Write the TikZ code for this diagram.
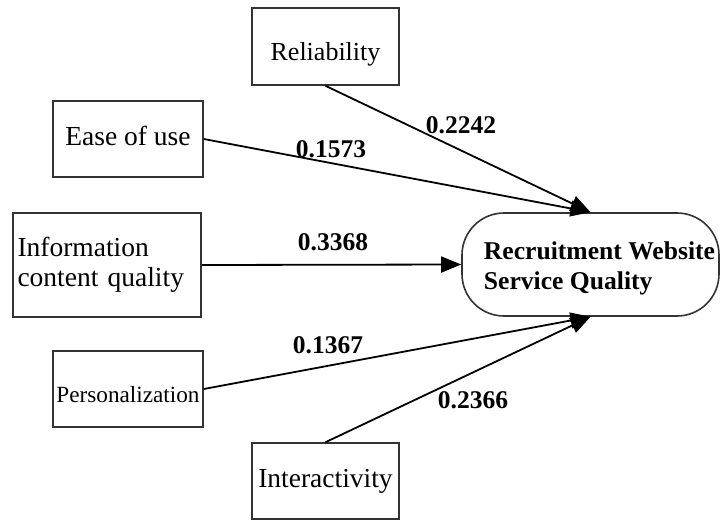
\documentclass[tikz,border=0pt]{standalone}
\usepackage{fontspec}
\setmainfont{Liberation Serif}
\usetikzlibrary{arrows.meta}
\newcommand{\basedown}[2]{\raisebox{-#1}[0pt][0pt]{#2}}
\begin{document}
\begin{tikzpicture}[x=1pt,y=-1pt,
  box/.style={draw=black!80, line width=1.6pt, rectangle, inner sep=0pt},
  txt/.style={font=\fontsize{27.5}{30}\selectfont},
  lbl/.style={font=\fontsize{25.5}{28}\selectfont\bfseries, inner sep=0pt, anchor=base},
  link/.style={line width=1.8pt, -{Triangle[length=20pt,width=16pt]}}]
\useasboundingbox (0,0) rectangle (721,520);
\node[box, minimum width=147pt, minimum height=77pt, font=\fontsize{26}{28}\selectfont] (rel) at (325.5,46.5) {\basedown{13.5pt}{Reliability}};
\node[box, txt, minimum width=150pt, minimum height=76pt] (ease) at (128,139) {\basedown{6pt}{Ease of use}};
\node[box, txt, minimum width=188pt, minimum height=104pt, text width=179pt, align=left] (info) at (107,265) {Information\\content quality};
\node[box, minimum width=150pt, minimum height=76pt, font=\fontsize{23.2}{26}\selectfont] (pers) at (128,389) {\basedown{13pt}{Personalization}};
\node[box, txt, minimum width=147pt, minimum height=76pt] (inter) at (325.5,481) {\basedown{6pt}{Interactivity}};
\node[draw=black!80, line width=1.6pt, rounded corners=42pt, minimum width=257pt, minimum height=103pt, align=left, inner sep=0pt, font=\fontsize{25.6}{30}\selectfont\bfseries] (rec) at (590.5,264.5) {\rule{0pt}{26pt}\hspace*{18pt}Recruitment Website\\\hspace*{18pt}Service Quality};
\draw[link] (rel.south) -- (rec.north);
\draw[link] (ease.east) -- (rec.north);
\draw[link] (info.east) -- (rec.west);
\draw[link] (pers.east) -- (rec.south);
\draw[link] (inter.north) -- (rec.south);
\node[lbl] (l1) at (461,133) {0.2242};
\node[lbl] (l2) at (331,157) {0.1573};
\node[lbl] (l3) at (333,250) {0.3368};
\node[lbl] (l4) at (328,353) {0.1367};
\node[lbl] (l5) at (473,408) {0.2366};
\end{tikzpicture}
\end{document}
